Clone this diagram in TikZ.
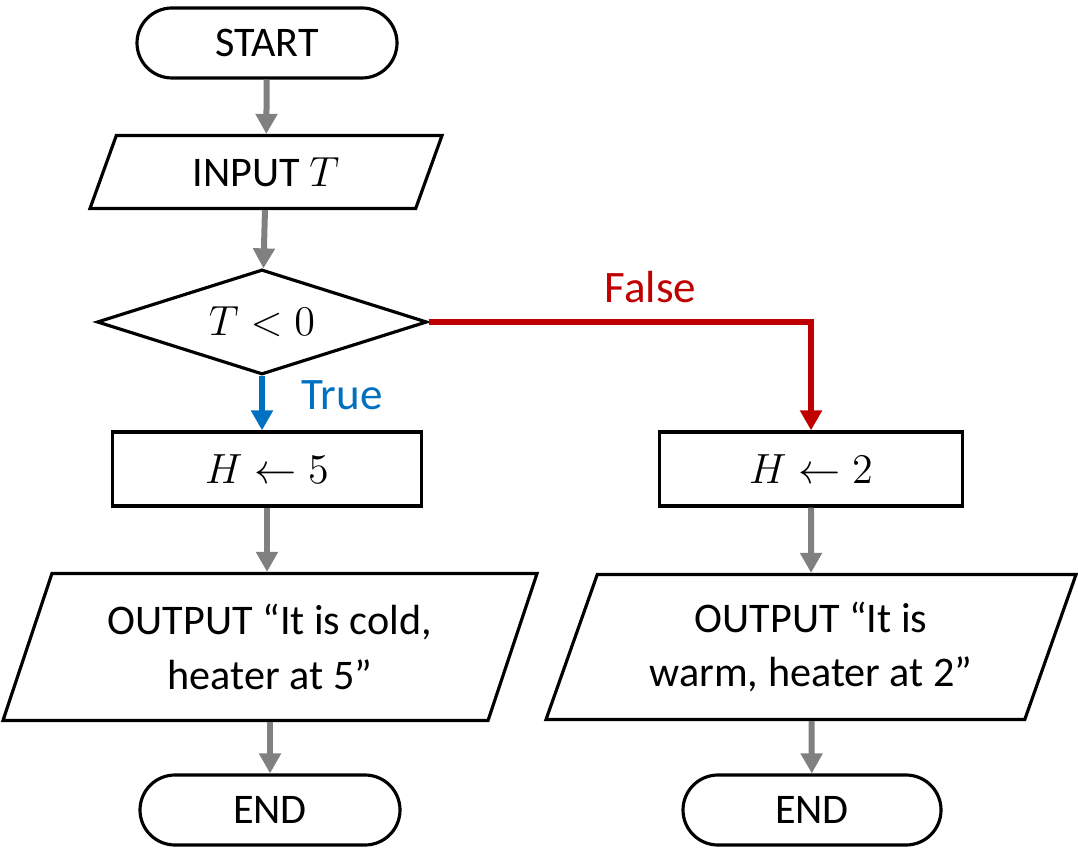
\documentclass[tikz,border=0pt]{standalone}
\usepackage{fontspec}
\setmainfont{Carlito}
\usetikzlibrary{shapes.geometric,arrows.meta}
\definecolor{arrowgray}{RGB}{128,128,128}
\definecolor{truecol}{RGB}{0,112,192}
\definecolor{falsecol}{RGB}{192,0,0}

\begin{document}
\begin{tikzpicture}[
  font=\fontsize{12}{15.6}\selectfont,
  term/.style={draw,line width=0.9pt,rectangle,rounded corners=0.35cm,minimum width=2.6cm,minimum height=0.7cm},
  io/.style={draw,line width=0.9pt,trapezium,trapezium stretches body,align=center},
  proc/.style={draw,line width=0.9pt,rectangle,minimum height=0.74cm},
  test/.style={draw,line width=0.9pt,diamond,aspect=3.14,inner sep=1pt,minimum width=3.3cm,minimum height=1.05cm},
  flow/.style={line width=0.06cm,arrowgray,-{Triangle[width=0.21cm,length=0.2cm]}},
  lbl/.style={font=\fontsize{12.8}{15}\selectfont}]
\useasboundingbox (0,0) rectangle (10.78,-8.5);
%start and input
\node[term] (start) at (2.67,-0.43) {START};
\node[io,trapezium left angle=63.4,trapezium right angle=116.6,minimum width=3.52cm,minimum height=0.73cm] (input) at (2.66,-1.72) {INPUT $T$};
\draw[flow] (start) -- (input);
%decision
\node[test] (cond) at (2.62,-3.22) {$T<0$};
\draw[flow] (input) -- (cond);
%branches
\node[proc,minimum width=3.09cm] (cold) at (2.67,-4.69) {$H\leftarrow 5$};
\node[proc,minimum width=3.03cm] (warm) at (8.11,-4.69) {$H\leftarrow 2$};
\draw[flow,truecol] (cond.south) -- (cond.south|-cold.north) node[lbl,pos=0.36,right=0.25cm]{True};
\draw[flow,falsecol] (cond.east) -| (warm.north) node[lbl,pos=0.29,above=0.04cm]{False};
%outputs
\node[io,trapezium left angle=65.8,trapezium right angle=114.2,minimum width=5.34cm,minimum height=1.47cm] (saycold) at (2.70,-6.47) {OUTPUT “It is cold,\\heater at 5”};
\node[io,trapezium left angle=65.8,trapezium right angle=114.2,minimum width=5.30cm,minimum height=1.45cm] (saywarm) at (8.11,-6.47) {OUTPUT “It is\\warm, heater at 2”};
\draw[flow] (cold.south) -- (cold.south|-saycold.north);
\draw[flow] (warm) -- (saywarm);
%ends
\node[term] (endcold) at (2.70,-8.10) {END};
\node[term,minimum width=2.58cm] (endwarm) at (8.12,-8.10) {END};
\draw[flow] (saycold.south) -- (saycold.south|-endcold.north);
\draw[flow] (saywarm) -- (endwarm);
\end{tikzpicture}
\end{document}
